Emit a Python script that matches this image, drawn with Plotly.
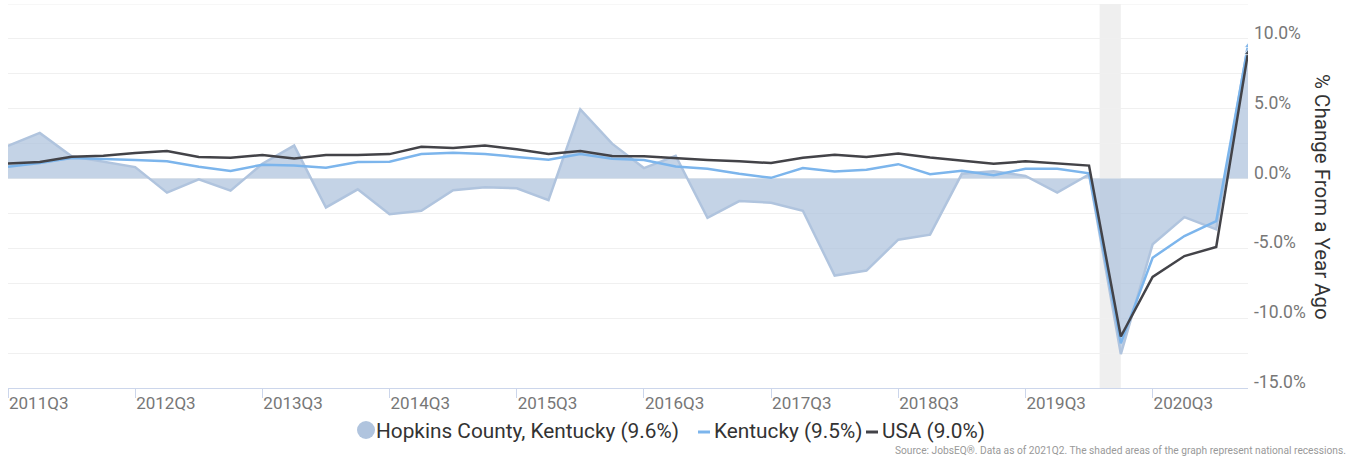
import plotly.graph_objects as go

quarters = []
for yr in range(2011, 2022):
    for q in range(1, 5):
        quarters.append(f"{yr}Q{q}")
quarters = quarters[quarters.index("2011Q3"):quarters.index("2021Q2") + 1]

hopkins = [2.35, 3.27, 1.59, 1.23, 0.82, -1.01, -0.05, -0.87, 1.06, 2.36,
           -2.07, -0.77, -2.55, -2.31, -0.84, -0.63, -0.70, -1.54, 4.95, 2.50,
           0.75, 1.63, -2.81, -1.61, -1.73, -2.31, -6.95, -6.59, -4.38, -4.02,
           0.34, 0.52, 0.19, -1.01, 0.30, -12.57, -4.71, -2.76, -3.64, 9.6]
kentucky = [0.84, 1.12, 1.47, 1.42, 1.32, 1.23, 0.84, 0.55, 0.99, 0.94,
            0.77, 1.18, 1.20, 1.75, 1.85, 1.75, 1.54, 1.35, 1.75, 1.42,
            1.32, 0.87, 0.70, 0.34, 0.05, 0.75, 0.50, 0.63, 1.03, 0.31,
            0.55, 0.24, 0.70, 0.70, 0.38, -11.8, -5.67, -4.12, -3.05, 9.5]
usa = [1.08, 1.18, 1.56, 1.63, 1.83, 1.97, 1.54, 1.49, 1.68, 1.44,
       1.68, 1.68, 1.75, 2.28, 2.19, 2.36, 2.09, 1.75, 1.97, 1.61,
       1.59, 1.44, 1.32, 1.23, 1.11, 1.49, 1.71, 1.54, 1.80, 1.51,
       1.27, 1.06, 1.23, 1.08, 0.93, -11.31, -7.05, -5.55, -4.90, 9.0]

series_names = ["Hopkins County, Kentucky (9.6%)", "Kentucky (9.5%)", "USA (9.0%)"]
tick_quarters = ["2011Q3", "2012Q3", "2013Q3", "2014Q3", "2015Q3",
                 "2016Q3", "2017Q3", "2018Q3", "2019Q3", "2020Q3"]
grid_ticks = [-15, -12.5, -10, -7.5, -5, -2.5, 0, 2.5, 5, 7.5, 10, 12.5]
label_ticks = [-15, -10, -5, 0, 5, 10]
recession_start = ("2020Q1", 1 / 3)   # Feb 2020
recession_end = ("2020Q2", 0.0)       # Apr 2020

W, H = 1355, 460
ML, MR, MT, MB = 8, 107, 4, 72
PW, PH = W - ML - MR, H - MT - MB
Y0, Y1 = -15, 12.5
LABEL_LIFT = 6 * (Y1 - Y0) / PH   # labels sit ~6px above their gridlines

x = list(range(len(quarters)))
C_HOP = "#b0c4de"
C_KY = "#7cb5ec"
C_US = "#434348"
FONT = "Roboto"


def px_x(p):
    return (p - ML) / PW


def px_y(p):
    return (H - MB - p) / PH


fig = go.Figure()
fig.add_trace(go.Scatter(x=x, y=hopkins, mode="lines", fill="tozeroy",
                         fillcolor="rgba(176,196,222,0.75)",
                         line=dict(color=C_HOP, width=2.5), showlegend=False,
                         hoverinfo="skip", name=series_names[0]))
end_sizes = [0] * (len(x) - 1) + [7]
fig.add_trace(go.Scatter(x=x, y=kentucky, mode="lines+markers", name=series_names[1],
                         line=dict(color=C_KY, width=2.5),
                         marker=dict(symbol="triangle-up", size=end_sizes, color=C_KY),
                         showlegend=False))
fig.add_trace(go.Scatter(x=x, y=usa, mode="lines+markers", name=series_names[2],
                         line=dict(color=C_US, width=2.5),
                         marker=dict(symbol="triangle-up", size=end_sizes, color=C_US),
                         showlegend=False))
# invisible trace to carry the label axis
fig.add_trace(go.Scatter(x=[None], y=[None], yaxis="y2", showlegend=False,
                         hoverinfo="skip"))

rx0 = quarters.index(recession_start[0]) + recession_start[1]
rx1 = quarters.index(recession_end[0]) + recession_end[1]
fig.add_shape(type="rect", xref="x", yref="paper", x0=rx0, x1=rx1, y0=0, y1=1,
              fillcolor="#efefef", line=dict(width=0), layer="below")
# top gridline at the edge of the range
fig.add_shape(type="line", xref="paper", yref="y", x0=0, x1=1, y0=Y1, y1=Y1,
              line=dict(color="#f0f0f0", width=1), layer="below")

# legend (drawn manually to match the compact original layout)
fig.add_shape(type="circle", xref="paper", yref="paper",
              x0=px_x(357), x1=px_x(375), y0=px_y(439), y1=px_y(421),
              fillcolor=C_HOP, line=dict(width=0))
fig.add_shape(type="line", xref="paper", yref="paper",
              x0=px_x(698), x1=px_x(710), y0=px_y(432), y1=px_y(432),
              line=dict(color=C_KY, width=3))
fig.add_shape(type="line", xref="paper", yref="paper",
              x0=px_x(866), x1=px_x(878), y0=px_y(432), y1=px_y(432),
              line=dict(color=C_US, width=3))
for name, lx in zip(series_names, [374, 712, 880]):
    fig.add_annotation(text=name, xref="paper", yref="paper", x=px_x(lx), y=px_y(431),
                       xanchor="left", yanchor="middle", showarrow=False,
                       font=dict(size=20.8, color="#333333", family=FONT))

fig.update_layout(
    width=W, height=H,
    margin=dict(l=ML, r=MR, t=MT, b=MB, autoexpand=False),
    paper_bgcolor="white", plot_bgcolor="white",
    font=dict(family=FONT, color="#333333"),
    showlegend=False,
    xaxis=dict(range=[0, len(x) - 1], tickmode="array",
               tickvals=[quarters.index(q) for q in tick_quarters],
               ticktext=tick_quarters, ticklabelposition="outside right",
               ticks="outside", ticklen=9, tickcolor="#ccd6eb", tickwidth=1,
               showline=True, linecolor="#ccd6eb", linewidth=1,
               showgrid=False, zeroline=False,
               tickfont=dict(size=17, color="#777777", family=FONT)),
    yaxis=dict(range=[Y0, Y1], side="right", tickmode="array",
               tickvals=grid_ticks, showticklabels=False, ticks="",
               showgrid=True, gridcolor="#f0f0f0", gridwidth=1,
               zeroline=False, showline=False),
    yaxis2=dict(range=[Y0 - LABEL_LIFT, Y1 - LABEL_LIFT], overlaying="y", side="right",
                tickmode="array", tickvals=label_ticks,
                ticktext=[f"{v:.1f}%" for v in label_ticks],
                ticks="", ticklabelstandoff=5, showgrid=False, zeroline=False,
                showline=False,
                tickfont=dict(size=17.5, color="#777777", family=FONT)),
)

fig.add_annotation(text="% Change From a Year Ago", xref="paper", yref="paper",
                   x=px_x(1322), y=px_y(197), textangle=90, showarrow=False,
                   font=dict(size=20.5, color="#333333", family=FONT),
                   xanchor="center", yanchor="middle")
fig.add_annotation(text="Source: JobsEQ®. Data as of 2021Q2. The shaded areas of the graph represent national recessions.",
                   xref="paper", yref="paper", x=px_x(1348), y=px_y(450),
                   showarrow=False, xanchor="right", yanchor="middle",
                   font=dict(size=10.2, color="#999999", family=FONT))

fig.write_html("out.html", config={"displayModeBar": False},
               post_script="document.body.style.margin='0px';")
